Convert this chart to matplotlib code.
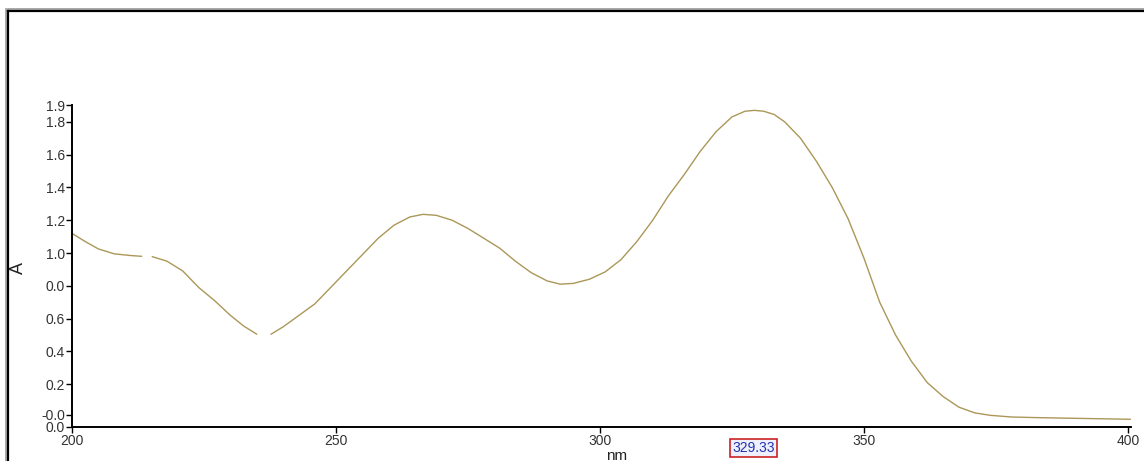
import numpy as np
import matplotlib
matplotlib.use("Agg")
import matplotlib.pyplot as plt
from matplotlib.lines import Line2D

# Absorbance spectrum (wavelength in nm, absorbance A); NaN marks breaks in the trace
wavelength = [200, 202.5, 205, 208, 211, 213.2, 214.2,
              215.2, 218, 221, 224, 227, 230, 232.5, 235, 236.3,
              237.7, 240, 243, 246, 249, 252, 255, 258, 261, 264, 266.5, 269,
              272, 275, 278, 281, 284, 287, 290, 292.5, 295, 298, 301, 304,
              307, 310, 313, 316, 319, 322, 325, 327.5, 329.3, 331, 333, 335,
              338, 341, 344, 347, 350, 353, 356, 359, 362, 365, 368, 371, 374,
              378, 383, 390, 400.5]
absorbance = [1.12, 1.07, 1.025, 0.995, 0.985, 0.98, np.nan,
              0.978, 0.95, 0.89, 0.79, 0.71, 0.62, 0.555, 0.505, np.nan,
              0.505, 0.55, 0.62, 0.69, 0.79, 0.89, 0.99, 1.09, 1.17, 1.22, 1.236, 1.23,
              1.20, 1.15, 1.09, 1.03, 0.95, 0.88, 0.83, 0.81, 0.815, 0.84, 0.885, 0.96,
              1.07, 1.20, 1.35, 1.48, 1.62, 1.74, 1.83, 1.865, 1.87, 1.865, 1.845, 1.80,
              1.70, 1.56, 1.40, 1.21, 0.97, 0.70, 0.50, 0.34, 0.21, 0.125, 0.06, 0.025, 0.01,
              0.0, -0.004, -0.008, -0.014]

x_ticks = [200, 250, 300, 350, 400]
x_tick_labels = ["200", "250", "300", "350", "400"]
y_ticks = [1.9, 1.8, 1.6, 1.4, 1.2, 1.0, 0.8, 0.6, 0.4, 0.2, 0.015, -0.058]
y_tick_labels = ["1.9", "1.8", "1.6", "1.4", "1.2", "1.0", "0.0", "0.6", "0.4", "0.2", "-0.0", "0.0"]
peak_label = "329.33"

W, H = 1144, 461
fig = plt.figure(figsize=(W / 100, H / 100), dpi=100)
fig.patch.set_facecolor("white")

tick_font = ["Liberation Sans Narrow", "Liberation Sans", "DejaVu Sans"]

ax_l, ax_r, ax_t, ax_b = 72, 1131, 103, 427
ax = fig.add_axes([ax_l / W, (H - ax_b) / H, (ax_r - ax_l) / W, (ax_b - ax_t) / H])
ax.set_facecolor("none")

ax.plot(wavelength, absorbance, color="#ab9758", lw=1.0,
        solid_capstyle="round", solid_joinstyle="round")

ax.set_xlim(200, 400.6)
ax.set_ylim(-0.061, 1.915)

for s in ("top", "right"):
    ax.spines[s].set_visible(False)
for s in ("left", "bottom"):
    ax.spines[s].set_linewidth(1.4)
    ax.spines[s].set_color("black")
ax.spines["left"].set_bounds(-0.061, 1.9)

ax.set_xticks(x_ticks)
ax.set_xticklabels(x_tick_labels, family=tick_font, fontsize=10, color="#333333")
ax.set_yticks(y_ticks)
ax.set_yticklabels(y_tick_labels, family=tick_font, fontsize=10, color="#333333")
ax.tick_params(axis="both", direction="out", length=4, width=1, color="black", pad=1)

# peak marker box under the axis
ax.annotate(peak_label, xy=(329.33, 0), xycoords=("data", "axes fraction"),
            xytext=(-1, -15), textcoords="offset points", ha="center", va="center",
            family=tick_font, fontsize=10, color="#2233aa",
            bbox=dict(boxstyle="square,pad=0.15", fc="#eef0ff", ec="#cc2222", lw=1.2),
            annotation_clip=False)

fig.text(617 / W, 1 - 449 / H, "nm", ha="center", va="top",
         family=tick_font, fontsize=11, color="#222222")
fig.text(18 / W, 1 - 268 / H, "A", ha="center", va="center", rotation=90,
         family=tick_font, fontsize=13, color="#222222")

# window frame along the top and left edges
bx, by = 8, 11
fig.add_artist(Line2D([bx / W, 1.0], [1 - (by - 2) / H, 1 - (by - 2) / H],
                      transform=fig.transFigure, color="#999999", lw=1.2))
fig.add_artist(Line2D([(bx - 2) / W, (bx - 2) / W], [0, 1 - (by - 2) / H],
                      transform=fig.transFigure, color="#999999", lw=1.2))
fig.add_artist(Line2D([bx / W, 1.0], [1 - by / H, 1 - by / H],
                      transform=fig.transFigure, color="black", lw=1.6))
fig.add_artist(Line2D([bx / W, bx / W], [0, 1 - by / H],
                      transform=fig.transFigure, color="black", lw=1.6))

fig.savefig("out.png", dpi=100, facecolor="white")
